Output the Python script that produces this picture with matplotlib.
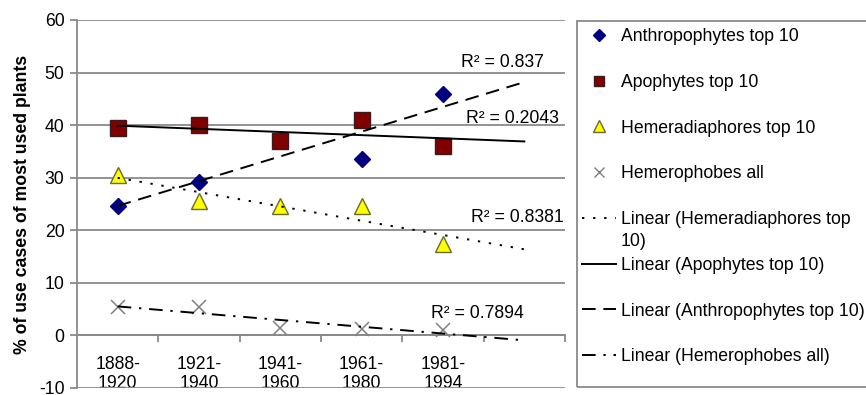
import matplotlib
matplotlib.use("Agg")
import matplotlib.pyplot as plt
import numpy as np
from matplotlib.lines import Line2D
from matplotlib.patches import Rectangle

plt.rcParams['font.family'] = ['Liberation Sans', 'DejaVu Sans']
plt.rcParams['axes.unicode_minus'] = False

categories = ["1888-\n1920", "1921-\n1940", "1941-\n1960", "1961-\n1980", "1981-\n1994"]
anthropophytes = [24.6, 29.2, 37.0, 33.5, 46.0]
apophytes = [39.5, 40.0, 37.0, 41.0, 36.0]
hemeradiaphores = [30.5, 25.5, 24.7, 24.7, 17.3]
hemerophobes = [5.4, 5.5, 1.5, 1.2, 1.1]
r2_labels = ["R² = 0.837", "R² = 0.2043", "R² = 0.8381", "R² = 0.7894"]
yticks = [-10, 0, 10, 20, 30, 40, 50, 60]

FS = 12.7
GRAY = '#8a8a8a'
W, H = 866, 395

fig = plt.figure(figsize=(8.66, 3.95), dpi=100)
ax = fig.add_axes([77/W, 1-388/H, (565-77)/W, (388-20)/H])

x = np.arange(1, len(categories) + 1)
xf = np.array([1, len(categories) + 1])

ax.set_xlim(0.5, 6.5)
ax.set_ylim(-10, 60)
ax.set_yticks(yticks)
ax.yaxis.grid(True, color=GRAY, lw=1.3)
ax.set_axisbelow(True)
for s in ['top', 'right']:
    ax.spines[s].set_visible(False)
ax.spines['left'].set_color(GRAY)
ax.spines['left'].set_linewidth(1.3)
ax.spines['bottom'].set_position(('data', 0))
ax.spines['bottom'].set_color(GRAY)
ax.spines['bottom'].set_linewidth(1.3)
ax.tick_params(axis='y', direction='out', length=5, color=GRAY, width=1.3, labelsize=FS, pad=4)
ax.set_xticks(x)
ax.set_xticklabels(categories, fontsize=FS, linespacing=1.1)
ax.set_xticks(np.arange(1.5, 7.0, 1.0), minor=True)
ax.tick_params(axis='x', which='major', length=0, pad=15)
ax.tick_params(axis='x', which='minor', direction='out', length=5, color=GRAY, width=1.3)
ax.set_ylabel("% of use cases of most used plants", fontsize=FS, fontweight='bold', labelpad=6)

# scatter series
ax.plot(x, anthropophytes, ls='none', marker='D', ms=8, mfc='#000080', mec='#000080', zorder=3)
ax.plot(x, apophytes, ls='none', marker='s', ms=11, mfc='#800000', mec='#3a1a1a', mew=1, zorder=3)
ax.plot(x, hemeradiaphores, ls='none', marker='^', ms=12, mfc='#ffff00', mec='#6b6b2a', mew=1, zorder=3)
ax.plot(x, hemerophobes, ls='none', marker='x', ms=10, mec='#808080', mew=1.1, zorder=3)

def trend(vals):
    p = np.polyfit(x, vals, 1)
    return np.polyval(p, xf)

ax.plot(xf, trend(hemeradiaphores), color='black', lw=1.4, dashes=(1.2, 4.5), zorder=4)
ax.plot(xf, trend(apophytes), color='black', lw=1.4, zorder=4)
ax.plot(xf, trend(anthropophytes), color='black', lw=1.4, dashes=(7, 4), zorder=4)
ax.plot(xf, trend(hemerophobes), color='black', lw=1.4, dashes=(7, 4, 1.2, 4), zorder=4)

ax.text(5.22, 51.9, r2_labels[0], fontsize=FS, va='center', ha='left')
ax.text(5.28, 41.3, r2_labels[1], fontsize=FS, va='center', ha='left')
ax.text(5.34, 22.4, r2_labels[2], fontsize=FS, va='center', ha='left')
ax.text(4.85, 4.2, r2_labels[3], fontsize=FS, va='center', ha='left')

handles = [
    Line2D([], [], ls='none', marker='D', ms=6, mfc='#000080', mec='#000080'),
    Line2D([], [], ls='none', marker='s', ms=7, mfc='#800000', mec='#3a1a1a'),
    Line2D([], [], ls='none', marker='^', ms=8, mfc='#ffff00', mec='#6b6b2a'),
    Line2D([], [], ls='none', marker='x', ms=7, mec='#808080'),
    Line2D([], [], color='black', lw=1.4, dashes=(1.2, 4.5)),
    Line2D([], [], color='black', lw=1.4),
    Line2D([], [], color='black', lw=1.4, dashes=(7, 4)),
    Line2D([], [], color='black', lw=1.4, dashes=(7, 4, 1.2, 4)),
]
labels = ["Anthropophytes top 10", "Apophytes top 10", "Hemeradiaphores top 10",
          "Hemerophobes all", "Linear (Hemeradiaphores top", "Linear (Apophytes top 10)",
          "Linear (Anthropophytes top 10)", "Linear (Hemerophobes all)"]
fig.patches.append(Rectangle((577/W, 1-387/H), 400/W, (387-21)/H, transform=fig.transFigure,
                             fill=False, edgecolor=GRAY, lw=1.3, figure=fig))
leg = fig.legend(handles, labels, loc='upper left', bbox_to_anchor=(582/W, 1-28/H),
                 bbox_transform=fig.transFigure, borderaxespad=0, fontsize=FS,
                 frameon=False, borderpad=0,
                 handlelength=1.9, handletextpad=0.3, labelspacing=1.63)

fig.canvas.draw()
bb = leg.get_texts()[4].get_window_extent()
fig.text(bb.x0/W, (bb.y0 - 22)/H, "10)", fontsize=FS, ha='left', va='bottom')

fig.savefig("out.png", dpi=100)
